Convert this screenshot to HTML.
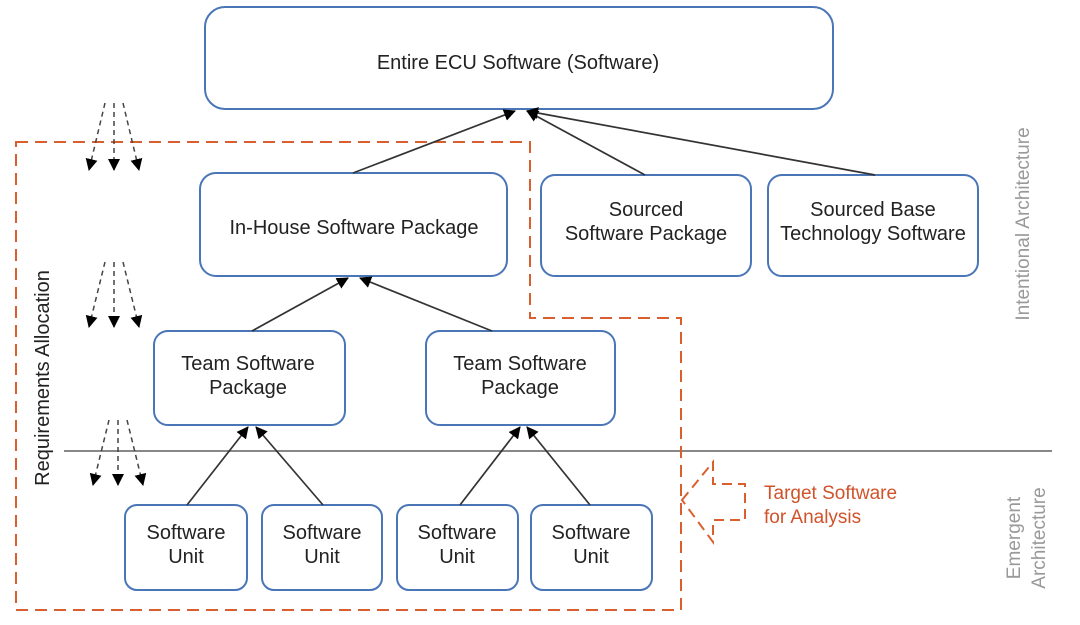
<!DOCTYPE html>
<html><head><style>body{margin:0;background:#fff}svg{display:block}</style></head><body>
<svg width="1080" height="625" viewBox="0 0 1080 625" xmlns="http://www.w3.org/2000/svg" font-family="Liberation Sans, sans-serif">
<defs>
<marker id="a" markerWidth="12" markerHeight="12" refX="11" refY="6" orient="auto" markerUnits="userSpaceOnUse"><path d="M0,0 L12,6 L0,12 z" fill="#000"/></marker>
</defs>
<line x1="64" y1="451" x2="1052" y2="451" stroke="#888" stroke-width="2"/>
<path d="M16,142 H530 V318 H681 V610 H16 Z" fill="none" stroke="#d9602e" stroke-width="2" stroke-dasharray="12,7"/>
<path d="M682,500 L713,462 V484 H745 V520 H713 V542 Z" fill="none" stroke="#d9602e" stroke-width="2" stroke-dasharray="10,6"/>
<g fill="none" stroke="#4a76b8" stroke-width="2">
<rect x="205" y="7" width="628" height="102" rx="20"/>
<rect x="200" y="173" width="307" height="103" rx="16"/>
<rect x="541" y="175" width="210" height="101" rx="14"/>
<rect x="768" y="175" width="210" height="101" rx="14"/>
<rect x="154" y="331" width="191" height="94" rx="14"/>
<rect x="426" y="331" width="189" height="94" rx="14"/>
<rect x="125" y="505" width="122" height="85" rx="12"/>
<rect x="262" y="505" width="120" height="85" rx="12"/>
<rect x="397" y="505" width="121" height="85" rx="12"/>
<rect x="531" y="505" width="121" height="85" rx="12"/>
</g>
<g stroke="#333" stroke-width="1.7" marker-end="url(#a)">
<line x1="353" y1="173" x2="515" y2="111"/>
<line x1="645" y1="175" x2="527" y2="111"/>
<line x1="875" y1="175" x2="527" y2="111"/>
<line x1="252" y1="331" x2="348" y2="278"/>
<line x1="492" y1="331" x2="360" y2="278"/>
<line x1="187" y1="505" x2="248" y2="427"/>
<line x1="323" y1="505" x2="256" y2="427"/>
<line x1="460" y1="505" x2="520" y2="427"/>
<line x1="590" y1="505" x2="527" y2="427"/>
</g>
<g stroke="#444" stroke-width="1.5" stroke-dasharray="5,4" marker-end="url(#a)">
<line x1="105" y1="103" x2="89" y2="170"/><line x1="114" y1="103" x2="114" y2="170"/><line x1="123" y1="103" x2="139" y2="170"/>
<line x1="105" y1="262" x2="89" y2="327"/><line x1="114" y1="262" x2="114" y2="327"/><line x1="123" y1="262" x2="139" y2="327"/>
<line x1="109" y1="420" x2="93" y2="485"/><line x1="118" y1="420" x2="118" y2="485"/><line x1="127" y1="420" x2="143" y2="485"/>
</g>
<g font-size="20" fill="#222" text-anchor="middle">
<text x="518" y="69">Entire ECU Software (Software)</text>
<text x="354" y="234">In-House Software Package</text>
<text x="646" y="216">Sourced</text><text x="646" y="240">Software Package</text>
<text x="873" y="216">Sourced Base</text><text x="873" y="240">Technology Software</text>
<text x="248" y="370">Team Software</text><text x="248" y="394">Package</text>
<text x="520" y="370">Team Software</text><text x="520" y="394">Package</text>
<text x="186" y="539">Software</text><text x="186" y="563">Unit</text>
<text x="322" y="539">Software</text><text x="322" y="563">Unit</text>
<text x="457" y="539">Software</text><text x="457" y="563">Unit</text>
<text x="591" y="539">Software</text><text x="591" y="563">Unit</text>
</g>
<text transform="translate(49,378) rotate(-90)" font-size="20" fill="#222" text-anchor="middle">Requirements Allocation</text>
<text transform="translate(1029,224) rotate(-90)" font-size="19" fill="#999" text-anchor="middle">Intentional Architecture</text>
<text transform="translate(1020,538) rotate(-90)" font-size="19" fill="#999" text-anchor="middle">Emergent</text>
<text transform="translate(1045,538) rotate(-90)" font-size="19" fill="#999" text-anchor="middle">Architecture</text>
<text x="764" y="499" font-size="19" fill="#d0532a">Target Software</text>
<text x="764" y="523" font-size="19" fill="#d0532a">for Analysis</text>
</svg>
</body></html>
